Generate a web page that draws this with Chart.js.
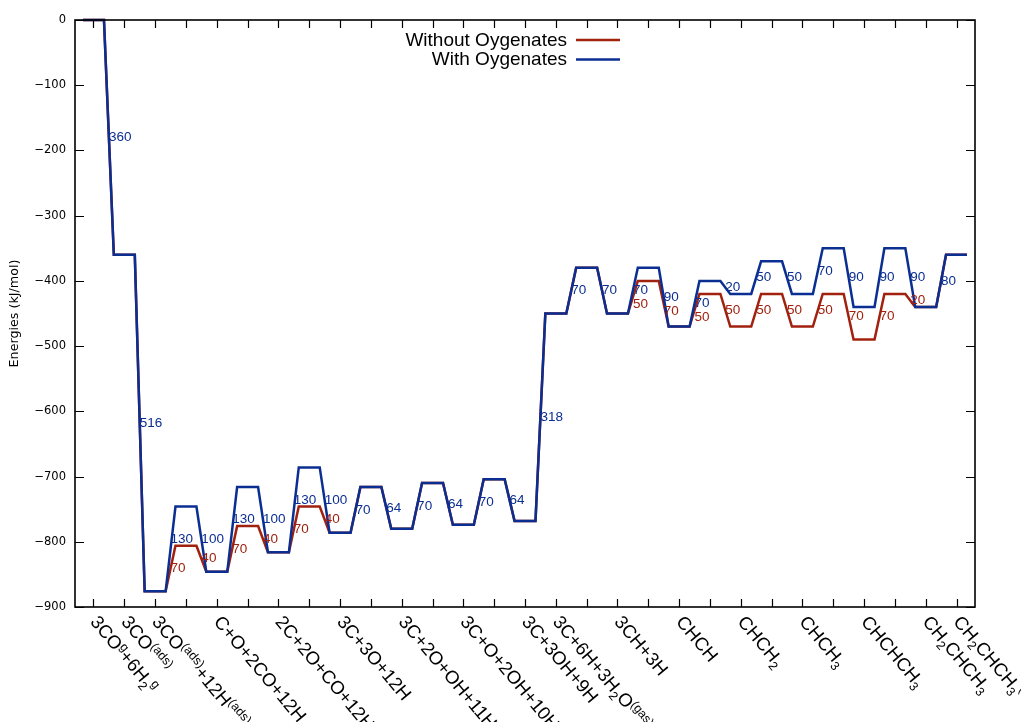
<!DOCTYPE html>
<html>
<head>
<meta charset="utf-8">
<title>Energy profile</title>
<script src="https://cdn.jsdelivr.net/npm/chart.js@4/dist/chart.umd.min.js"></script>
<style>
  html, body { margin: 0; padding: 0; background: #ffffff; }
  #wrap { width: 1021px; height: 722px; position: relative; }
</style>
</head>
<body>
<div id="wrap"><canvas id="profile"></canvas></div>
<script>
// Reaction steps, one per tick (empty string = tick without a label).
// Markup: _{..} subscript, ^{..} superscript.
const stepLabels = [
  '3CO^{g}+6H_{2}^{g}', '3CO^{(ads)}', '3CO^{(ads)}+12H^{(ads)}', '',
  'C+O+2CO+12H', '', '2C+2O+CO+12H', '', '3C+3O+12H', '',
  '3C+2O+OH+11H', '', '3C+O+2OH+10H', '', '3C+3OH+9H',
  '3C+6H+3H_{2}O^{(gas)}', '', '3CH+3H', '', 'CHCH', '', 'CHCH_{2}', '',
  'CHCH_{3}', '', 'CHCHCH_{3}', '', 'CH_{2}CHCH_{3}', 'CH_{2}CHCH_{3}^{(ads)}'
];

// Energy of every step (kJ/mol)
const energyWithout = [
  0, -360, -876, -806, -846, -776, -816, -746, -786, -716,
  -780, -710, -774, -704, -768, -450, -380, -450, -400, -470,
  -420, -470, -420, -470, -420, -490, -420, -440, -360
];
const energyWith = [
  0, -360, -876, -746, -846, -716, -816, -686, -786, -716,
  -780, -710, -774, -704, -768, -450, -380, -450, -380, -470,
  -400, -420, -370, -420, -350, -440, -350, -440, -360
];

const seriesNames = ['Without Oygenates', 'With Oygenates'];
const seriesColors = ['#a1210f', '#0b2e92'];

const yTickValues = [0, -100, -200, -300, -400, -500, -600, -700, -800, -900];

// ---- layout constants ----
const HALF = 0.34;            // half width of a step plateau (x units)
const LABEL_FONT = '13.5px "Liberation Sans", Arial, sans-serif';
const STEP_FONT = 18.5;       // px, step names
const STEP_SMALL = 12.5;      // px, sub/superscripts
const STEP_ANGLE = 50 * Math.PI / 180;
// vertical nudges (kJ/mol) for a few barrier labels so they don't collide
const labelShift = {
  'With Oygenates': { 2: 15, 4: 15, 6: 15 },
  'Without Oygenates': { 17: -11, 18: -11, 19: -11 }
};

function plateauPoints(energies) {
  const pts = [];
  energies.forEach((e, i) => {
    pts.push({ x: i - HALF, y: e }, { x: i + HALF, y: e });
  });
  return pts;
}

function parseRich(s) {
  const segs = [];
  let buf = '', i = 0;
  while (i < s.length) {
    const c = s[i];
    if (c === '_' || c === '^') {
      if (buf) { segs.push({ t: buf, m: 0 }); buf = ''; }
      let t;
      if (s[i + 1] === '{') {
        const j = s.indexOf('}', i + 2);
        t = s.slice(i + 2, j); i = j + 1;
      } else { t = s[i + 1]; i += 2; }
      segs.push({ t, m: c === '_' ? 1 : -1 });
    } else { buf += c; i++; }
  }
  if (buf) segs.push({ t: buf, m: 0 });
  return segs;
}

// Frame with inward ticks on all four sides
const framePlugin = {
  id: 'frame',
  afterDatasetsDraw(chart) {
    const { ctx, chartArea: a, scales: { x, y } } = chart;
    ctx.save();
    ctx.strokeStyle = '#000';
    ctx.lineWidth = 1.2;
    ctx.beginPath();
    for (let i = 0; i < stepLabels.length; i++) {
      const px = Math.round(x.getPixelForValue(i)) + 0.5;
      ctx.moveTo(px, a.bottom); ctx.lineTo(px, a.bottom - 8);
      ctx.moveTo(px, a.top); ctx.lineTo(px, a.top + 8);
    }
    yTickValues.forEach(v => {
      const py = Math.round(y.getPixelForValue(v)) + 0.5;
      ctx.moveTo(a.left, py); ctx.lineTo(a.left + 9, py);
      ctx.moveTo(a.right, py); ctx.lineTo(a.right - 9, py);
    });
    ctx.stroke();
    ctx.lineWidth = 1.6;
    ctx.strokeRect(a.left, a.top, a.right - a.left, a.bottom - a.top);
    ctx.restore();
  }
};

// Barrier / step energy differences written on each transition
const barrierPlugin = {
  id: 'barriers',
  afterDatasetsDraw(chart) {
    const { ctx, scales: { x, y } } = chart;
    const ref = energyWith;
    ctx.save();
    ctx.font = LABEL_FONT;
    ctx.textAlign = 'left';
    ctx.textBaseline = 'middle';
    const series = [
      { name: seriesNames[0], e: energyWithout, color: seriesColors[0], onlyDiff: true },
      { name: seriesNames[1], e: energyWith, color: seriesColors[1], onlyDiff: false }
    ];
    series.forEach(s => {
      ctx.fillStyle = s.color;
      for (let i = 0; i < s.e.length - 1; i++) {
        if (s.onlyDiff && s.e[i] === ref[i] && s.e[i + 1] === ref[i + 1]) continue;
        const val = Math.abs(s.e[i + 1] - s.e[i]);
        const shift = (labelShift[s.name] || {})[i] || 0;
        const mid = (s.e[i] + s.e[i + 1]) / 2 + shift;
        ctx.fillText(String(val), x.getPixelForValue(i + 0.5), y.getPixelForValue(mid));
      }
    });
    ctx.restore();
  }
};

// Rotated step names under the axis
const stepNamePlugin = {
  id: 'stepNames',
  afterDraw(chart) {
    const { ctx, chartArea: a, scales: { x } } = chart;
    ctx.save();
    ctx.fillStyle = '#000';
    ctx.textBaseline = 'middle';
    ctx.textAlign = 'left';
    stepLabels.forEach((lbl, i) => {
      if (!lbl) return;
      const px = x.getPixelForValue(i);
      ctx.save();
      ctx.translate(px, a.bottom + 12);
      ctx.rotate(STEP_ANGLE);
      let cx = 0;
      parseRich(lbl).forEach(seg => {
        const size = seg.m === 0 ? STEP_FONT : STEP_SMALL;
        ctx.font = size + 'px "Liberation Sans", Arial, sans-serif';
        const dy = seg.m === 1 ? 6 : (seg.m === -1 ? -5 : 0);
        ctx.fillText(seg.t, cx, dy);
        cx += ctx.measureText(seg.t).width;
      });
      ctx.restore();
    });
    ctx.restore();
  }
};

// Legend: right-aligned names with a line sample on the right
const legendPlugin = {
  id: 'keyBox',
  afterDraw(chart) {
    const { ctx } = chart;
    ctx.save();
    ctx.font = '19px "Liberation Sans", Arial, sans-serif';
    ctx.textAlign = 'right';
    ctx.textBaseline = 'alphabetic';
    const baselines = [45.5, 65];
    seriesNames.forEach((name, k) => {
      const ds = chart.data.datasets.find(d => d.label === name);
      ctx.fillStyle = '#000';
      ctx.fillText(name, 567, baselines[k]);
      ctx.strokeStyle = ds.borderColor;
      ctx.lineWidth = 2.5;
      ctx.beginPath();
      ctx.moveTo(576, baselines[k] - 5.5);
      ctx.lineTo(620, baselines[k] - 5.5);
      ctx.stroke();
    });
    ctx.restore();
  }
};

// Y axis title
const yTitlePlugin = {
  id: 'yTitle',
  afterDraw(chart) {
    const { ctx, chartArea: a } = chart;
    ctx.save();
    ctx.translate(15, (a.top + a.bottom) / 2);
    ctx.rotate(-Math.PI / 2);
    ctx.font = '12.7px "DejaVu Sans", sans-serif';
    ctx.fillStyle = '#000';
    ctx.textAlign = 'center';
    ctx.textBaseline = 'middle';
    ctx.fillText('Energies (kJ/mol)', 0, 0);
    ctx.restore();
  }
};

new Chart(document.getElementById('profile'), {
  type: 'line',
  data: {
    datasets: [
      {
        label: seriesNames[0],
        data: plateauPoints(energyWithout),
        borderColor: seriesColors[0],
        borderWidth: 2.5,
        pointRadius: 0,
        tension: 0,
        fill: false,
        clip: 6,
        order: 2
      },
      {
        label: seriesNames[1],
        data: plateauPoints(energyWith),
        borderColor: seriesColors[1],
        borderWidth: 2.5,
        pointRadius: 0,
        tension: 0,
        fill: false,
        clip: 6,
        order: 1
      }
    ]
  },
  options: {
    responsive: true,
    maintainAspectRatio: false,
    animation: false,
    events: [],
    layout: { padding: { left: 0, right: 46, top: 20, bottom: 115 } },
    plugins: { legend: { display: false }, tooltip: { enabled: false } },
    scales: {
      x: {
        type: 'linear',
        min: -0.6,
        max: 28.6,
        grid: { display: false },
        border: { display: false },
        ticks: { display: false },
        afterFit(scale) { scale.height = 0; }
      },
      y: {
        type: 'linear',
        min: -900,
        max: 0,
        grid: { display: false, drawTicks: false },
        border: { display: false },
        afterBuildTicks(scale) { scale.ticks = yTickValues.map(v => ({ value: v })); },
        afterFit(scale) { scale.width = 75; },
        ticks: {
          padding: 9,
          color: '#000',
          font: { family: '"DejaVu Sans", sans-serif', size: 11.5 },
          callback: v => (v === 0 ? '0' : '\u2212' + Math.abs(v))
        }
      }
    }
  },
  plugins: [framePlugin, barrierPlugin, stepNamePlugin, legendPlugin, yTitlePlugin]
});
</script>
</body>
</html>
